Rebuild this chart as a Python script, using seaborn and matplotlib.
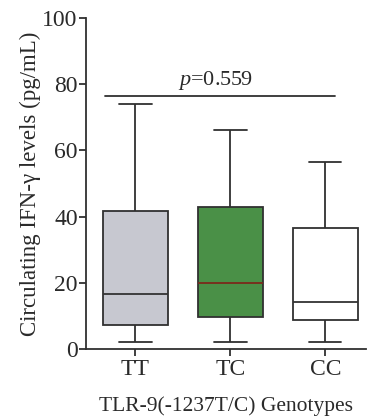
import matplotlib
matplotlib.use("Agg")
import matplotlib.pyplot as plt
import pandas as pd
import seaborn as sns

# Five-number summaries (min, Q1, median, Q3, max)
genotypes = ["TT", "TC", "CC"]
tt_stats = [2.2, 7.3, 16.6, 41.6, 73.9]
tc_stats = [2.2, 9.6, 20.0, 43.0, 66.1]
cc_stats = [2.2, 8.9, 14.2, 36.6, 56.6]
box_colors = ["#c6c7d1", "#3f9c3b", "#ffffff"]
median_colors = ["#333333", "#7a2a1a", "#333333"]
p_label = "0.559"
p_line_y = 76.6
y_ticks = [0, 20, 40, 60, 80, 100]

rows = []
for g, stats in zip(genotypes, [tt_stats, tc_stats, cc_stats]):
    for v in stats:
        rows.append({"genotype": g, "level": v})
df = pd.DataFrame(rows)

sns.set_style("ticks")
plt.rcParams["font.family"] = ["Liberation Serif", "DejaVu Serif"]
plt.rcParams["mathtext.fontset"] = "custom"
plt.rcParams["mathtext.it"] = "Liberation Serif:italic"
plt.rcParams["mathtext.rm"] = "Liberation Serif"

line_col = "#303030"
lw = 1.3
fig = plt.figure(figsize=(3.68, 4.2), dpi=100)
ax = fig.add_axes([0.234, 0.169, 0.761, 0.788])

sns.boxplot(data=df, x="genotype", y="level", hue="genotype", order=genotypes,
            palette=box_colors, whis=(0, 100), width=0.68, linewidth=lw,
            linecolor=line_col, legend=False, ax=ax,
            capprops={"color": line_col}, whiskerprops={"color": line_col})

# recolour the median lines per genotype
for line in ax.lines:
    yd = line.get_ydata()
    xd = line.get_xdata()
    if len(yd) == 2 and yd[0] == yd[1] and abs(xd[1] - xd[0]) > 0.6:
        idx = int(round((xd[0] + xd[1]) / 2))
        line.set_color(median_colors[idx])
        line.set_linewidth(lw)

ax.set_ylim(0, 100)
ax.set_xlim(-0.52, 2.43)
ax.set_yticks(y_ticks)
ax.tick_params(axis="both", labelsize=17, width=lw, length=5, color=line_col,
               labelcolor="#2a2a2a")
ax.tick_params(axis="x", pad=2)
ax.tick_params(axis="y", pad=1)
for side in ["left", "bottom"]:
    ax.spines[side].set_linewidth(lw)
    ax.spines[side].set_color(line_col)
sns.despine(ax=ax)

ax.set_xlabel("TLR-9(-1237T/C) Genotypes", fontsize=15.5, labelpad=12,
              color="#2a2a2a")
ax.set_ylabel("Circulating IFN-\u03b3 levels (pg/mL)", fontsize=16.5,
              labelpad=1, color="#2a2a2a")

ax.plot([-0.32, 2.1], [p_line_y, p_line_y], color=line_col, lw=lw)
ax.text(0.84, p_line_y + 1.0, r"$p$=" + p_label, ha="center", va="bottom",
        fontsize=16, color="#2a2a2a")

fig.savefig("out.png", dpi=100)
